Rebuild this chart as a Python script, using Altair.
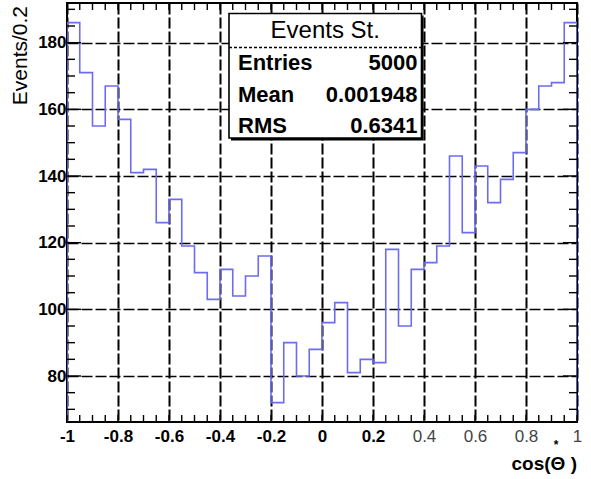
import altair as alt
import pandas as pd

# cos(theta*) histogram: 40 bins of width 0.05 on [-1, 1]
bin_lo = -1.0
bin_w = 0.05
counts = [186, 171, 155, 167, 157, 141, 142, 126, 133, 119,
          111, 103, 112, 104, 110, 116, 72, 90, 80, 88,
          96, 102, 81, 85, 84, 118, 95, 112, 114, 119,
          146, 123, 143, 132, 139, 147, 160, 167, 168, 186]

x_major = [-1, -0.8, -0.6, -0.4, -0.2, 0, 0.2, 0.4, 0.6, 0.8, 1]
y_major = [80, 100, 120, 140, 160, 180]
y_minor = [70, 75, 85, 90, 95, 105, 110, 115, 125, 130, 135,
           145, 150, 155, 165, 170, 175, 185, 190]

stat_title = "Events St."
stat_names = ["Entries", "Mean", "RMS"]
stat_values = ["5000", "0.001948", "0.6341"]

W, H = 510, 419
Y_DOM = [66.2, 191.9]
FONT = "Liberation Sans"
LINE_BLUE = "#6c6cef"

edges = [round(bin_lo + i * bin_w, 4) for i in range(len(counts) + 1)]

# outline points for a step-after line, closing down to the axis at both ends
pts = [(edges[0], 0.0)]
pts += [(edges[i], counts[i]) for i in range(len(counts))]
pts += [(edges[-1], counts[-1]), (edges[-1], 0.0)]
hist = pd.DataFrame({"x": [p[0] for p in pts], "y": [p[1] for p in pts],
                     "o": list(range(len(pts)))})

xs = alt.Scale(domain=[-1, 1], nice=False, zero=False)
ys = alt.Scale(domain=Y_DOM, nice=False, zero=False)

x_axis = alt.Axis(
    values=x_major, format=".1~f",
    labelExpr="replace(datum.label, '\u2212', '-')",
    grid=True, gridColor="black", gridDash=[11, 3], gridWidth=2,
    ticks=False, domain=False, title=None,
    labelFont=FONT, labelFontSize=17,
    labelFontWeight={"condition": {"test": "datum.value > 0.3", "value": "normal"},
                     "value": "bold"},
    labelColor={"condition": {"test": "datum.value > 0.3", "value": "#444444"},
                "value": "black"},
    labelPadding=6, labelFlush=False,
)
y_axis = alt.Axis(
    values=y_major, grid=True, gridColor="black", gridDash=[11, 3], gridWidth=1.5,
    ticks=False, domain=False, title=None,
    labelFont=FONT, labelFontSize=17, labelFontWeight="bold", labelColor="black",
    labelPadding=1,
)

line = alt.Chart(hist).mark_line(
    interpolate="step-after", color=LINE_BLUE, strokeWidth=1.6, clip=True
).encode(
    x=alt.X("x:Q", scale=xs, axis=x_axis),
    y=alt.Y("y:Q", scale=ys, axis=y_axis),
    order="o:Q",
)

# inward ticks on all four sides
xt = pd.DataFrame({"x": edges})
yt = pd.DataFrame({"y": y_minor})
ym = pd.DataFrame({"y": y_major})
tick_style = dict(color="black", strokeWidth=1.4)
bottom_ticks = alt.Chart(xt).mark_rule(**tick_style).encode(
    x=alt.X("x:Q", scale=xs), y=alt.value(H), y2=alt.value(H - 7))
top_ticks = alt.Chart(xt).mark_rule(**tick_style).encode(
    x=alt.X("x:Q", scale=xs), y=alt.value(0), y2=alt.value(7))
left_ticks = alt.Chart(yt).mark_rule(**tick_style).encode(
    y=alt.Y("y:Q", scale=ys), x=alt.value(0), x2=alt.value(8))
right_ticks = alt.Chart(yt).mark_rule(**tick_style).encode(
    y=alt.Y("y:Q", scale=ys), x=alt.value(W), x2=alt.value(W - 8))
left_major = alt.Chart(ym).mark_rule(**tick_style).encode(
    y=alt.Y("y:Q", scale=ys), x=alt.value(0), x2=alt.value(14))
right_major = alt.Chart(ym).mark_rule(**tick_style).encode(
    y=alt.Y("y:Q", scale=ys), x=alt.value(W), x2=alt.value(W - 14))

# statistics box
bx0, bx1, by0, by1 = 162, 354.5, 10.5, 135
one = pd.DataFrame({"k": [0]})
box_shadow = alt.Chart(one).mark_rect(color="black").encode(
    x=alt.value(bx0 + 2), x2=alt.value(bx1 + 2),
    y=alt.value(by0 + 2), y2=alt.value(by1 + 2.5))
box = alt.Chart(one).mark_rect(fill="white", stroke="black", strokeWidth=1.6).encode(
    x=alt.value(bx0), x2=alt.value(bx1), y=alt.value(by0), y2=alt.value(by1))
box_sep = alt.Chart(one).mark_rule(color="black", strokeWidth=1.3, strokeDash=[3, 2]).encode(
    x=alt.value(bx0), x2=alt.value(bx1), y=alt.value(44.5))
box_title = alt.Chart(pd.DataFrame({"t": [stat_title]})).mark_text(
    font=FONT, fontSize=24, color="black", align="center", baseline="alphabetic"
).encode(x=alt.value((bx0 + bx1) / 2), y=alt.value(35), text="t:N")

stats = pd.DataFrame({"name": stat_names, "val": stat_values,
                      "py": [67, 98.5, 130]})
stat_name_txt = alt.Chart(stats).mark_text(
    font=FONT, fontSize=22, fontWeight="bold", color="black",
    align="left", baseline="alphabetic"
).encode(x=alt.value(bx0 + 9), y=alt.Y("py:Q", scale=None), text="name:N")
stat_val_txt = alt.Chart(stats).mark_text(
    font=FONT, fontSize=22, fontWeight="bold", color="black",
    align="right", baseline="alphabetic"
).encode(x=alt.value(bx1 - 4), y=alt.Y("py:Q", scale=None), text="val:N")

# axis titles
y_title = alt.Chart(pd.DataFrame({"t": ["Events/0.2"]})).mark_text(
    font=FONT, fontSize=21, color="black", angle=270,
    align="right", baseline="middle"
).encode(x=alt.value(-46), y=alt.value(3), text="t:N")
x_title = alt.Chart(pd.DataFrame({"t": ["cos(\u0398 )"]})).mark_text(
    font=FONT, fontSize=19, fontWeight="bold", color="black",
    align="right", baseline="alphabetic"
).encode(x=alt.value(W), y=alt.value(467), text="t:N")
x_title_star = alt.Chart(pd.DataFrame({"t": ["*"]})).mark_text(
    font=FONT, fontSize=12, fontWeight="bold", color="black",
    align="center", baseline="bottom"
).encode(x=alt.value(489), y=alt.value(449), text="t:N")

chart = alt.layer(
    line, bottom_ticks, top_ticks, left_ticks, right_ticks, left_major, right_major,
    box_shadow, box, box_sep, box_title, stat_name_txt, stat_val_txt,
    y_title, x_title, x_title_star,
).properties(
    width=W, height=H,
    autosize=alt.AutoSizeParams(type="none"),
    padding={"left": 67, "top": 3, "right": 14, "bottom": 57},
    background="white",
).configure_view(
    stroke="black", strokeWidth=2,
)

chart.save("out.html", embed_options={"renderer": "svg", "actions": False})
